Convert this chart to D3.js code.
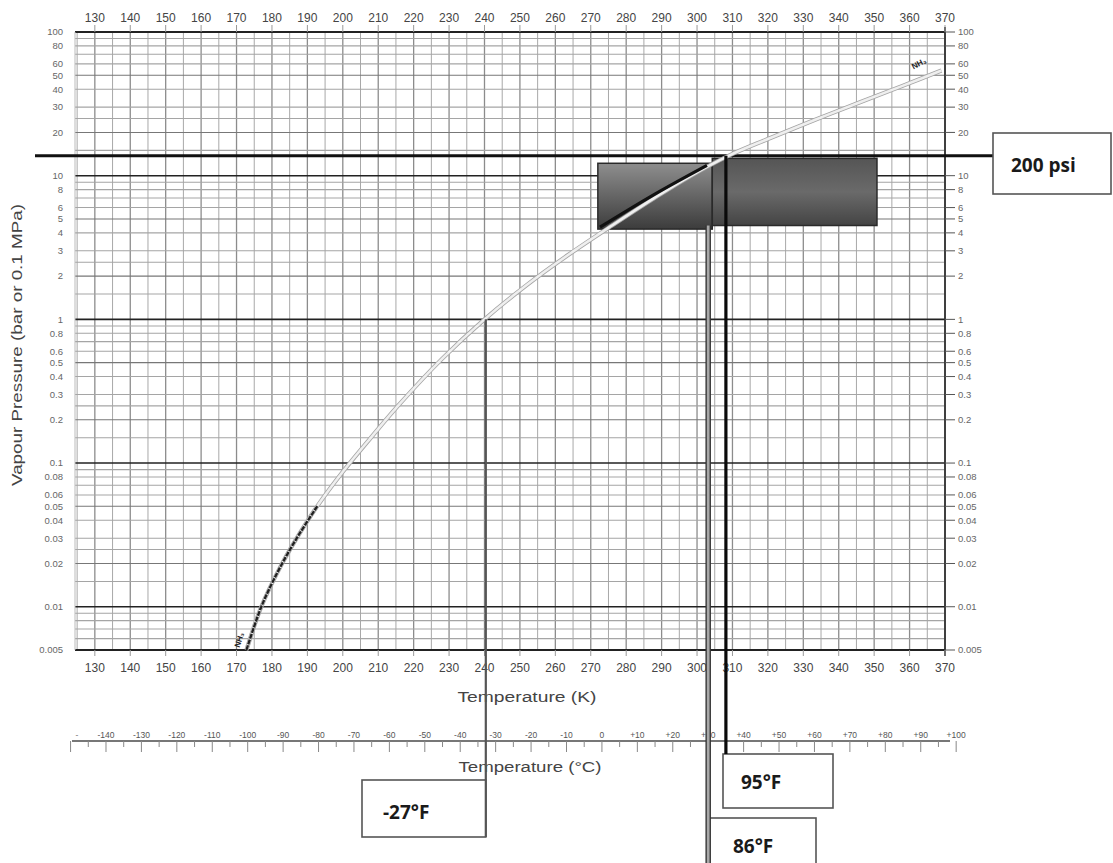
<!DOCTYPE html>
<html><head><meta charset="utf-8">
<script src="https://cdn.jsdelivr.net/npm/d3@7"></script>
<style>body{margin:0;background:#fff}svg{display:block}</style>
</head><body>
<svg id="c" width="1113" height="863"></svg>
<script>
// ---------- data ----------
const kelvinTicks = [130,140,150,160,170,180,190,200,210,220,230,240,250,260,270,280,290,300,310,320,330,340,350,360,370];
const pressureTicks = [100,80,60,50,40,30,20,10,8,6,5,4,3,2,1,0.8,0.6,0.5,0.4,0.3,0.2,0.1,0.08,0.06,0.05,0.04,0.03,0.02,0.01,0.005];
const pressureTickText = ["100","80","60","50","40","30","20","10","8","6","5","4","3","2","1","0.8","0.6","0.5","0.4","0.3","0.2","0.1","0.08","0.06","0.05","0.04","0.03","0.02","0.01","0.005"];
const decades = [0.001,0.01,0.1,1,10];
const gridMantissas = [1,1.5,2,2.5,3,4,5,6,7,8,9];
const celsiusTicks = [-140,-130,-120,-110,-100,-90,-80,-70,-60,-50,-40,-30,-20,-10,0,10,20,30,40,50,60,70,80,90,100];

// NH3 vapour pressure curve
const nh3TempK =    [172.8, 177,  182,    187,   193,   200,   208,   216,   228,   240, 252,  264,  276, 288, 298, 309,  320,  333,  346,  358,  369];
const nh3Pressure = [0.005, 0.01, 0.0182, 0.030, 0.051, 0.087, 0.151, 0.257, 0.531, 1.0, 1.74, 2.85, 4.5, 7.0, 9.9, 13.8, 18.0, 24.3, 32.4, 42.2, 54];
// dark overlay segment inside shaded box
const darkSegK = [272.6, 287.5, 302.8];
const darkSegP = [4.38, 7.3, 11.8];

// shaded operating region (K, bar)
const boxK0 = [272, 304.3];
const boxK1 = [304.3, 350.8];
const boxPLow = [4.25, 4.5];
const boxPHigh = [12.2, 13.2];

const psiLine = 13.79;           // 200 psi in bar
const annotF = [-27, 86, 95];    // Fahrenheit annotations
const fToK = f => (f - 32) * 5 / 9 + 273.15;

// ---------- scales ----------
const svg = d3.select("#c");
const x = d3.scaleLinear().domain([124.4, 370]).range([75, 945]);
const y = d3.scaleLog().domain([0.005, 100]).range([650, 32]);
const axisFont = "'Liberation Sans', Arial, sans-serif";
const boldFont = "'Open Sans', 'Noto Sans', sans-serif";

// ---------- grid ----------
const g = svg.append("g");
const vGrid = d3.range(125, 371, 5);
g.selectAll("line.vg").data(vGrid).join("line")
  .attr("x1", d => x(d)).attr("x2", d => x(d))
  .attr("y1", y(100)).attr("y2", y(0.005))
  .attr("stroke", d => d % 10 === 0 ? "#8c8c8c" : "#a8a8a8")
  .attr("stroke-width", d => d % 10 === 0 ? 1.3 : 1);

const hGrid = [];
decades.forEach(d => gridMantissas.forEach(m => {
  const v = +(d * m).toPrecision(3);
  if (v >= 0.005 && v <= 100) hGrid.push({v, m});
}));
hGrid.push({v:100, m:1});
g.selectAll("line.hg").data(hGrid).join("line")
  .attr("x1", 75).attr("x2", 945)
  .attr("y1", d => y(d.v)).attr("y2", d => y(d.v))
  .attr("stroke", d => d.m === 1 ? "#222" : (d.m === 5 || d.m === 2) ? "#777" : "#a5a5a5")
  .attr("stroke-width", d => d.m === 1 ? 1.6 : 1.1);

// frame
g.append("line").attr("x1", 75).attr("x2", 945).attr("y1", y(100)).attr("y2", y(100)).attr("stroke", "#222").attr("stroke-width", 1.8);
g.append("line").attr("x1", 75).attr("x2", 945).attr("y1", y(0.005)).attr("y2", y(0.005)).attr("stroke", "#222").attr("stroke-width", 1.8);
g.append("line").attr("x1", 945).attr("x2", 945).attr("y1", 27).attr("y2", 656).attr("stroke", "#333").attr("stroke-width", 1.8);
g.append("line").attr("x1", 75).attr("x2", 75).attr("y1", y(100)).attr("y2", y(0.005)).attr("stroke", "#bbb").attr("stroke-width", 1);

// right ticks
g.selectAll("line.rt").data(pressureTicks).join("line")
  .attr("x1", 945).attr("x2", 955).attr("y1", d => y(d)).attr("y2", d => y(d))
  .attr("stroke", "#555").attr("stroke-width", 1);
// top ticks
g.selectAll("line.tt").data(kelvinTicks).join("line")
  .attr("x1", d => x(d)).attr("x2", d => x(d)).attr("y1", 25).attr("y2", 32)
  .attr("stroke", "#999").attr("stroke-width", 1);
// bottom ticks
g.selectAll("line.bt").data(kelvinTicks).join("line")
  .attr("x1", d => x(d)).attr("x2", d => x(d)).attr("y1", 650).attr("y2", 656)
  .attr("stroke", "#999").attr("stroke-width", 1);

// ---------- tick labels ----------
const lab = svg.append("g").attr("font-family", axisFont).attr("fill", "#444");
lab.selectAll("text.top").data(kelvinTicks).join("text")
  .attr("x", d => x(d)).attr("y", 22).attr("text-anchor", "middle").attr("font-size", 12).text(d => d);
lab.selectAll("text.bot").data(kelvinTicks).join("text")
  .attr("x", d => x(d)).attr("y", 672).attr("text-anchor", "middle").attr("font-size", 12).text(d => d);
lab.selectAll("text.left").data(pressureTicks).join("text")
  .attr("x", 63).attr("y", d => y(d)).attr("dy", "0.35em").attr("text-anchor", "end")
  .attr("font-size", 9.5).attr("fill", "#666").text((d, i) => pressureTickText[i]);
lab.selectAll("text.right").data(pressureTicks).join("text")
  .attr("x", 958).attr("y", d => y(d)).attr("dy", "0.35em").attr("text-anchor", "start")
  .attr("font-size", 9.5).attr("fill", "#666").text((d, i) => pressureTickText[i]);

// axis titles
lab.append("text").attr("x", 527).attr("y", 702).attr("text-anchor", "middle")
  .attr("font-size", 14).attr("textLength", 139).attr("lengthAdjust", "spacingAndGlyphs").text("Temperature (K)");
lab.append("text").attr("x", 530).attr("y", 772).attr("text-anchor", "middle")
  .attr("font-size", 14).attr("textLength", 143).attr("lengthAdjust", "spacingAndGlyphs").text("Temperature (°C)");
lab.append("text").attr("transform", "translate(22,345) rotate(-90)").attr("text-anchor", "middle")
  .attr("font-size", 15).attr("textLength", 282).attr("lengthAdjust", "spacingAndGlyphs").text("Vapour Pressure (bar or 0.1 MPa)");

// ---------- Celsius axis ----------
const cy = 741;
const cg = svg.append("g");
cg.append("line").attr("x1", 72).attr("x2", 950).attr("y1", cy).attr("y2", cy).attr("stroke", "#777").attr("stroke-width", 2);
const cMinor = d3.range(-150, 101, 5);
cg.selectAll("line.ct").data(cMinor).join("line")
  .attr("x1", d => x(d + 273.15)).attr("x2", d => x(d + 273.15))
  .attr("y1", cy).attr("y2", d => d % 10 === 0 ? cy + 11 : cy + 6)
  .attr("stroke", "#888").attr("stroke-width", 1);
cg.selectAll("text").data(celsiusTicks).join("text")
  .attr("x", d => x(d + 273.15)).attr("y", cy - 3).attr("text-anchor", "middle")
  .attr("font-family", axisFont).attr("font-size", 8.5).attr("fill", "#555")
  .text(d => d > 0 ? "+" + d : "" + d);
cg.append("text").attr("x", 77).attr("y", cy - 3).attr("text-anchor", "middle")
  .attr("font-family", axisFont).attr("font-size", 8.5).attr("fill", "#777").text("-");

// ---------- shaded region ----------
const defs = svg.append("defs");
const gr1 = defs.append("linearGradient").attr("id", "gA").attr("x1", 0).attr("x2", 0).attr("y1", 0).attr("y2", 1);
gr1.append("stop").attr("offset", "0%").attr("stop-color", "#8e8e8e");
gr1.append("stop").attr("offset", "100%").attr("stop-color", "#3c3c3c");
const gr2 = defs.append("linearGradient").attr("id", "gB").attr("x1", 0).attr("x2", 0).attr("y1", 0).attr("y2", 1);
gr2.append("stop").attr("offset", "0%").attr("stop-color", "#555");
gr2.append("stop").attr("offset", "50%").attr("stop-color", "#6a6a6a");
gr2.append("stop").attr("offset", "100%").attr("stop-color", "#444");
svg.append("g").selectAll("rect").data(boxK0).join("rect")
  .attr("x", (d, i) => x(boxK0[i])).attr("width", (d, i) => x(boxK1[i]) - x(boxK0[i]))
  .attr("y", (d, i) => y(boxPHigh[i])).attr("height", (d, i) => y(boxPLow[i]) - y(boxPHigh[i]))
  .attr("fill", (d, i) => i === 0 ? "url(#gA)" : "url(#gB)")
  .attr("stroke", "#2a2a2a").attr("stroke-width", 1.5);

// ---------- 200 psi line ----------
svg.append("line").attr("x1", 35).attr("x2", 993).attr("y1", y(psiLine)).attr("y2", y(psiLine))
  .attr("stroke", "#111").attr("stroke-width", 3);

// ---------- NH3 curve ----------
const pts = nh3TempK.map((k, i) => [k, nh3Pressure[i]]);
const line = d3.line().x(d => x(d[0])).y(d => y(d[1])).curve(d3.curveCatmullRom.alpha(0.5));
svg.append("path").attr("d", line(pts)).attr("fill", "none").attr("stroke", "#a5a5a5").attr("stroke-width", 4.2);
svg.append("path").attr("d", line(pts)).attr("fill", "none").attr("stroke", "#efefef").attr("stroke-width", 2.6);
svg.append("path").attr("d", line(pts.filter(p => p[0] <= 193))).attr("fill", "none")
  .attr("stroke", "#222").attr("stroke-width", 2.4).attr("stroke-dasharray", "5,1");
const darkPts = darkSegK.map((k, i) => [k, darkSegP[i]]);
svg.append("path").attr("d", line(darkPts)).attr("fill", "none").attr("stroke", "#111").attr("stroke-width", 3.2);

// NH3 labels
svg.append("text").attr("transform", `translate(${x(171.5)},${y(0.0058)}) rotate(-72)`)
  .attr("font-family", axisFont).attr("font-weight", "bold").attr("font-size", 8).attr("fill", "#222")
  .attr("text-anchor", "middle").text("NH₃");
svg.append("text").attr("transform", `translate(${x(363)},${y(58)}) rotate(-28)`)
  .attr("font-family", axisFont).attr("font-weight", "bold").attr("font-size", 8).attr("fill", "#222")
  .attr("text-anchor", "middle").text("NH₃");

// ---------- annotation vertical lines ----------
const kM27 = fToK(annotF[0]), k86 = fToK(annotF[1]), k95 = fToK(annotF[2]);
function drawVLines() {
  svg.append("line").attr("x1", x(kM27)).attr("x2", x(kM27)).attr("y1", y(1)).attr("y2", 837)
    .attr("stroke", "#555").attr("stroke-width", 2.2);
  svg.append("line").attr("x1", x(k86)).attr("x2", x(k86)).attr("y1", y(4.5)).attr("y2", 863)
    .attr("stroke", "#333").attr("stroke-width", 5.5);
  svg.append("line").attr("x1", x(k86)).attr("x2", x(k86)).attr("y1", y(4.5)).attr("y2", 863)
    .attr("stroke", "#a8a8a8").attr("stroke-width", 2.8);
  svg.append("line").attr("x1", x(k95)).attr("x2", x(k95)).attr("y1", y(psiLine)).attr("y2", 754)
    .attr("stroke", "#0a0a0a").attr("stroke-width", 3.2);
}

// ---------- annotation boxes ----------
const ann = svg.append("g");
function box(x0, y0, w, h, txt, tx, ty) {
  ann.append("rect").attr("x", x0).attr("y", y0).attr("width", w).attr("height", h)
    .attr("fill", "#fff").attr("stroke", "#555").attr("stroke-width", 1.6);
  ann.append("text").attr("x", tx).attr("y", ty).attr("font-family", boldFont)
    .attr("font-weight", "bold").attr("font-size", 19).attr("fill", "#1a1a1a").text(txt);
}
box(993, 133, 118, 61, "200 psi", 1011, 172);
box(362, 780, x(kM27) - 362, 57, annotF[0] + "°F", 383, 819);
box(723, 754, 110, 54, annotF[2] + "°F", 741, 789);
box(x(k86), 818, 816 - x(k86), 50, annotF[1] + "°F", 733, 853);
drawVLines();
</script>
</body></html>
